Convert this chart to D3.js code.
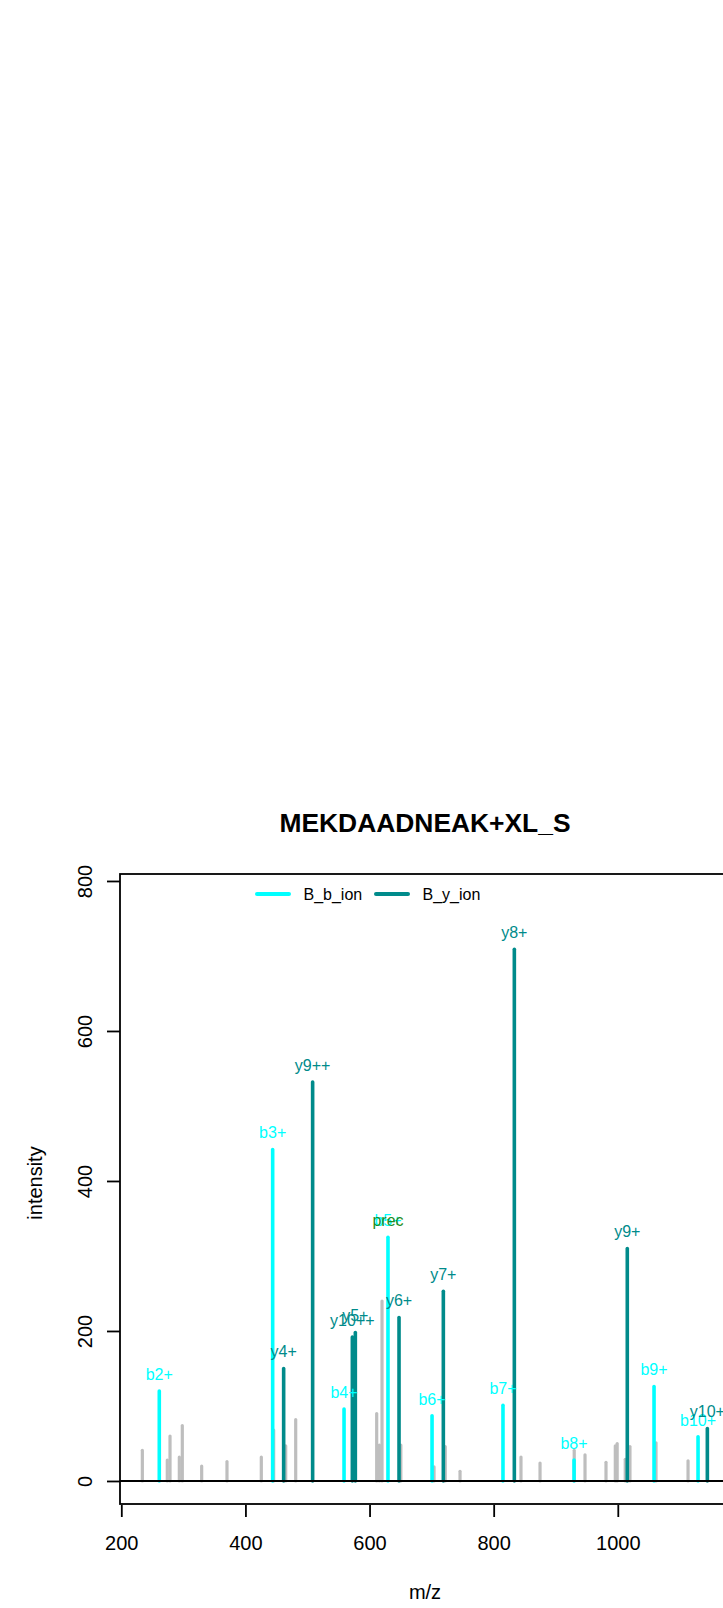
<!DOCTYPE html>
<html>
<head>
<meta charset="utf-8">
<script src="https://cdn.jsdelivr.net/npm/d3@7"></script>
<style>
  html, body { margin: 0; padding: 0; background: #ffffff; }
  svg { display: block; font-family: "Liberation Sans", Arial, Helvetica, sans-serif; }
</style>
</head>
<body>
<script>
// ---- data ----
const titleText = "MEKDAADNEAK+XL_S";
const xTicks = [200, 400, 600, 800, 1000];
const yTicks = [0, 200, 400, 600, 800];

// unannotated peaks (gray)
const grayMz  = [233.9, 274.1, 278.5, 293.5, 298.3, 329.5, 370.3, 425.6, 445.5, 464.9, 481.0,
                 611.5, 615.8, 620.1, 650.4, 703.9, 722.0, 745.8, 844.0, 874.7, 929.8, 947.2,
                 981.0, 996.0, 999.0, 1012.0, 1019.6, 1061.6, 1113.2];
const grayInt = [41, 28, 60, 32, 74, 20, 26, 32, 68, 47, 82,
                 90, 48, 240, 48, 19, 46, 13, 32, 24, 41, 35,
                 25, 47, 50, 29, 46, 51, 27];

// B_b_ion series
const bLabels = ["b2+", "b3+", "b4+", "b5+", "b6+", "b7+", "b8+", "b9+", "b10+"];
const bMz     = [261.2, 443.9, 558.9, 629.7, 700.7, 815.0, 929.5, 1058.4, 1129.3];
const bInt    = [120, 442, 96, 325, 87, 101, 28, 126, 59];

// B_y_ion series
const yLabels = ["y4+", "y9++", "y10++", "y5+", "y6+", "y7+", "y8+", "y9+", "y10+"];
const yMz     = [461.6, 508.3, 572.3, 577.1, 647.5, 718.9, 833.3, 1015.3, 1144.3];
const yInt    = [150, 532, 192, 198, 218, 253, 709, 310, 70];

// precursor annotation
const precLabels = ["prec"];
const precMz  = [629.7];
const precInt = [325];

const legendNames = ["B_b_ion", "B_y_ion"];

// ---- styles ----
const colB = "#00FFFF", colY = "#008B8B", colGray = "#BEBEBE", colPrec = "#228B22";

const W = 723, H = 1608;
const svg = d3.select("body").append("svg").attr("width", W).attr("height", H);
svg.append("rect").attr("width", W).attr("height", H).attr("fill", "#fff");

const box = { left: 120, right: 730, top: 874, bottom: 1504 };
const x = d3.scaleLinear().domain([197.9, 1180.8]).range([box.left, box.right]);
const y = d3.scaleLinear().domain([-30.7, 809.3]).range([box.bottom, box.top]);

// title
svg.append("text").attr("x", 425).attr("y", 832).attr("text-anchor", "middle")
  .attr("font-size", 26.4).attr("font-weight", "bold").attr("fill", "#000").text(titleText);

// peaks
const peaks = svg.append("g");
function drawPeaks(mz, inten, color, w) {
  peaks.selectAll(null).data(mz.map((m, i) => ({ m, v: inten[i] }))).enter().append("line")
    .attr("x1", d => x(d.m)).attr("x2", d => x(d.m))
    .attr("y1", y(0)).attr("y2", d => y(d.v))
    .attr("stroke", color).attr("stroke-width", w).attr("stroke-linecap", "round");
}
drawPeaks(grayMz, grayInt, colGray, 3.2);
drawPeaks(bMz, bInt, colB, 3.6);
drawPeaks(yMz, yInt, colY, 3.6);

// zero line
svg.append("line").attr("x1", box.left).attr("x2", W).attr("y1", y(0)).attr("y2", y(0))
  .attr("stroke", "#000").attr("stroke-width", 1.8);

// labels
function drawLabels(labels, mz, inten, color) {
  svg.append("g").selectAll(null).data(labels.map((t, i) => ({ t, m: mz[i], v: inten[i] }))).enter()
    .append("text")
    .attr("x", d => x(d.m)).attr("y", d => y(d.v) - 11)
    .attr("text-anchor", "middle").attr("font-size", 16).attr("fill", color).text(d => d.t);
}
drawLabels(bLabels, bMz, bInt, colB);
drawLabels(yLabels, yMz, yInt, colY);
drawLabels(precLabels, precMz, precInt, colPrec);

// box
svg.append("rect").attr("x", box.left).attr("y", box.top)
  .attr("width", box.right - box.left).attr("height", box.bottom - box.top)
  .attr("fill", "none").attr("stroke", "#000").attr("stroke-width", 1.8);

// x axis
const xAxis = svg.append("g").attr("transform", `translate(0,${box.bottom + 1})`)
  .call(d3.axisBottom(x).tickValues(xTicks).tickSize(12).tickFormat(d3.format("d")));
xAxis.select(".domain").remove();
xAxis.selectAll(".tick line").attr("stroke", "#000").attr("stroke-width", 1.8);
xAxis.selectAll(".tick text").attr("y", 45).attr("dy", 0).attr("font-size", 20)
  .attr("font-family", "Liberation Sans, Arial, sans-serif").attr("fill", "#000");

// y axis
const yAxis = svg.append("g").attr("transform", `translate(${box.left},0)`)
  .call(d3.axisLeft(y).tickValues(yTicks).tickSize(13).tickFormat(d3.format("d")));
yAxis.select(".domain").remove();
yAxis.selectAll(".tick line").attr("stroke", "#000").attr("stroke-width", 1.8);
yAxis.selectAll(".tick text").attr("x", 0).attr("dy", 0)
  .attr("transform", "translate(-28.5,0) rotate(-90)")
  .attr("text-anchor", "middle").attr("font-size", 20)
  .attr("font-family", "Liberation Sans, Arial, sans-serif").attr("fill", "#000");

// axis titles
svg.append("text").attr("x", 425).attr("y", 1599).attr("text-anchor", "middle")
  .attr("font-size", 20).attr("fill", "#000").text("m/z");
svg.append("text").attr("transform", `translate(42,${(box.top + box.bottom) / 2 - 6}) rotate(-90)`)
  .attr("text-anchor", "middle").attr("font-size", 20).attr("fill", "#000").text("intensity");

// legend
const legend = svg.append("g");
const legItems = [
  { name: legendNames[0], color: colB, x1: 257, x2: 289, tx: 303.5 },
  { name: legendNames[1], color: colY, x1: 376, x2: 408, tx: 422.5 }
];
legItems.forEach(d => {
  legend.append("line").attr("x1", d.x1).attr("x2", d.x2).attr("y1", 894).attr("y2", 894)
    .attr("stroke", d.color).attr("stroke-width", 4).attr("stroke-linecap", "round");
  legend.append("text").attr("x", d.tx).attr("y", 900).attr("font-size", 16)
    .attr("fill", "#000").text(d.name);
});
</script>
</body>
</html>
